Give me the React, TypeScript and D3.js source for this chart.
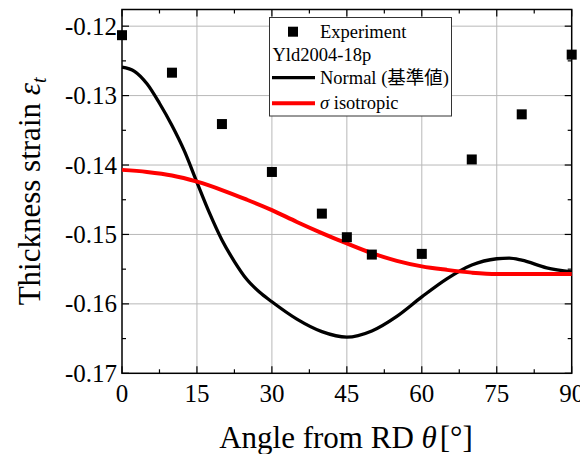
import React from "react";
import * as d3 from "d3";

const W = 580;
const H = 454;

// Experiment points
const expAngles = [0, 10, 20, 30, 40, 45, 50, 60, 70, 80, 90];
const expValues = [-0.1213, -0.1267, -0.1341, -0.141, -0.147, -0.1504, -0.1529, -0.1528, -0.1392, -0.1327, -0.1241];

// Yld2004-18p Normal
const normalAngles = [0, 2.5, 5, 7.5, 10, 12.5, 15, 17.5, 20, 22.5, 25, 27.5, 30, 35, 40, 45, 50, 55, 60, 65, 70, 75, 77.5, 80, 85, 90];
const normalValues = [-0.1259, -0.1265, -0.1283, -0.1311, -0.1343, -0.138, -0.1425, -0.1469, -0.1508, -0.1539, -0.1565, -0.1583, -0.1597, -0.1622, -0.164, -0.1648, -0.1639, -0.1618, -0.159, -0.1564, -0.1544, -0.1535, -0.1534, -0.1537, -0.1548, -0.1554];

// sigma isotropic
const isoAngles = [0, 5, 10, 15, 20, 25, 30, 35, 40, 45, 50, 55, 60, 65, 70, 75, 80, 85, 90];
const isoValues = [-0.1407, -0.141, -0.1415, -0.1424, -0.1436, -0.145, -0.1465, -0.1482, -0.1498, -0.1513, -0.1527, -0.1538, -0.1546, -0.1551, -0.1555, -0.1557, -0.1557, -0.1557, -0.1557];

const xTicks = [0, 15, 30, 45, 60, 75, 90];
const xTickLabels = ["0", "15", "30", "45", "60", "75", "90"];
const xMinorTicks = [7.5, 22.5, 37.5, 52.5, 67.5, 82.5];
const yTicks = [-0.17, -0.16, -0.15, -0.14, -0.13, -0.12];
const yTickLabels = ["-0.17", "-0.16", "-0.15", "-0.14", "-0.13", "-0.12"];
const yMinorTicks = [-0.165, -0.155, -0.145, -0.135, -0.125];

const FONT = "Liberation Serif, Times New Roman, DejaVu Serif, serif";
const CJK = "Noto Sans CJK JP, Noto Sans CJK SC, sans-serif";

export default function App() {
  const L = 122, R = 571.7, T = 9.5, B = 373.3;
  const x = d3.scaleLinear().domain([0, 90]).range([L, R]);
  const y = d3.scaleLinear().domain([-0.17, -0.1176]).range([B, T]);

  const line = d3
    .line<[number, number]>()
    .x((d) => x(d[0]))
    .y((d) => y(d[1]))
    .curve(d3.curveMonotoneX);

  const normalPath = line(normalAngles.map((a, i) => [a, normalValues[i]]) as [number, number][]) || "";
  const isoPath = line(isoAngles.map((a, i) => [a, isoValues[i]]) as [number, number][]) || "";

  const major = 7;
  const minor = 4;
  const grid = "#b8b8b8";

  return (
    <svg width={W} height={H} style={{ position: "absolute", left: 0, top: 0, background: "#fff", fontFamily: FONT }}>
      <rect x={0} y={0} width={W} height={H} fill="#fff" />
      {/* grid */}
      {xTicks.slice(1, -1).map((t) => (
        <line key={"gx" + t} x1={x(t)} x2={x(t)} y1={T} y2={B} stroke={grid} strokeWidth={1} />
      ))}
      {yTicks.slice(1).map((t) => (
        <line key={"gy" + t} x1={L} x2={R} y1={y(t)} y2={y(t)} stroke={grid} strokeWidth={1} />
      ))}

      {/* ticks */}
      {xTicks.map((t) => (
        <g key={"xt" + t}>
          <line x1={x(t)} x2={x(t)} y1={B} y2={B - major} stroke="#000" strokeWidth={1.2} />
          <line x1={x(t)} x2={x(t)} y1={T} y2={T + major} stroke="#000" strokeWidth={1.2} />
        </g>
      ))}
      {xMinorTicks.map((t) => (
        <g key={"xm" + t}>
          <line x1={x(t)} x2={x(t)} y1={B} y2={B - minor} stroke="#000" strokeWidth={1.2} />
          <line x1={x(t)} x2={x(t)} y1={T} y2={T + minor} stroke="#000" strokeWidth={1.2} />
        </g>
      ))}
      {yTicks.map((t) => (
        <g key={"yt" + t}>
          <line x1={L} x2={L + major} y1={y(t)} y2={y(t)} stroke="#000" strokeWidth={1.2} />
          <line x1={R} x2={R - major} y1={y(t)} y2={y(t)} stroke="#000" strokeWidth={1.2} />
        </g>
      ))}
      {yMinorTicks.map((t) => (
        <g key={"ym" + t}>
          <line x1={L} x2={L + minor} y1={y(t)} y2={y(t)} stroke="#000" strokeWidth={1.2} />
          <line x1={R} x2={R - minor} y1={y(t)} y2={y(t)} stroke="#000" strokeWidth={1.2} />
        </g>
      ))}

      {/* frame */}
      <rect x={L} y={T} width={R - L} height={B - T} fill="none" stroke="#000" strokeWidth={1.5} />

      {/* curves */}
      <path d={normalPath} fill="none" stroke="#000" strokeWidth={3.3} strokeLinejoin="round" />
      <path d={isoPath} fill="none" stroke="#ff0000" strokeWidth={4} strokeLinejoin="round" />

      {/* markers */}
      {expAngles.map((a, i) => (
        <rect key={"m" + a} x={x(a) - 5} y={y(expValues[i]) - 5} width={10} height={10} fill="#000" />
      ))}

      {/* tick labels */}
      {xTicks.map((t, i) => (
        <text key={"xl" + t} x={x(t)} y={402} fontSize={25} textAnchor="middle" fill="#000">
          {xTickLabels[i]}
        </text>
      ))}
      {yTicks.map((t, i) => (
        <text key={"yl" + t} x={117} y={y(t) + 8.5} fontSize={25} textAnchor="end" fill="#000">
          {yTickLabels[i]}
        </text>
      ))}

      {/* axis titles */}
      <text x={346} y={448} fontSize={31} textAnchor="middle" fill="#000">
        Angle from RD <tspan fontStyle="italic">θ</tspan>
        <tspan dx={3}>[°]</tspan>
      </text>
      <text transform={`translate(40,${(T + B) / 2}) rotate(-90)`} fontSize={31} textAnchor="middle" fill="#000">
        Thickness strain <tspan fontStyle="italic">ε</tspan>
        <tspan fontStyle="italic" fontSize={20} dy={6}>t</tspan>
      </text>

      {/* legend */}
      <g>
        <rect x={269.5} y={17.5} width={182} height={98.5} fill="#fff" stroke="#333" strokeWidth={1} />
        <rect x={288} y={26.7} width={10} height={10} fill="#000" />
        <text x={320} y={38} fontSize={18.5} fill="#000">Experiment</text>
        <text x={272.5} y={61} fontSize={18.5} fill="#000">Yld2004-18p</text>
        <line x1={272} x2={315} y1={77.7} y2={77.7} stroke="#000" strokeWidth={3.3} />
        <text x={320} y={84} fontSize={18.5} fill="#000">
          Normal (<tspan fontFamily={CJK}>基準値</tspan>)
        </text>
        <line x1={272} x2={315} y1={103.3} y2={103.3} stroke="#ff0000" strokeWidth={4} />
        <text x={320} y={109} fontSize={18.5} fill="#000">
          <tspan fontStyle="italic">σ</tspan> isotropic
        </text>
      </g>
    </svg>
  );
}
